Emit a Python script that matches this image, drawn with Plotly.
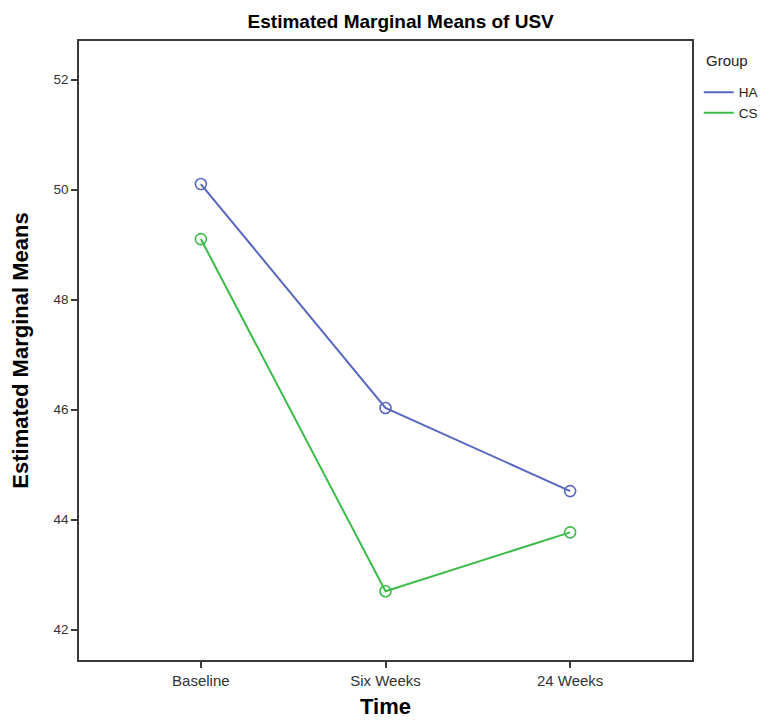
import plotly.graph_objects as go

categories = ["Baseline", "Six Weeks", "24 Weeks"]
ha_values = [50.1, 46.03, 44.52]
cs_values = [49.1, 42.7, 43.77]
y_ticks = [42, 44, 46, 48, 50, 52]
group_names = ["HA", "CS"]

HA_COLOR = "#5867c0"
CS_COLOR = "#3dbb4a"
FONT = "Liberation Sans, Arial, sans-serif"

x_pos = list(range(len(categories)))

fig = go.Figure()
for name, vals, col in [(group_names[0], ha_values, HA_COLOR), (group_names[1], cs_values, CS_COLOR)]:
    fig.add_trace(go.Scatter(x=x_pos, y=vals, mode="lines", name=name,
                             line=dict(color=col, width=2), showlegend=True))
    fig.add_trace(go.Scatter(x=x_pos, y=vals, mode="markers", name=name,
                             marker=dict(symbol="circle-open", size=11, color=col,
                                         line=dict(width=1.6, color=col)),
                             showlegend=False))

axis_common = dict(showline=True, linecolor="#3a3a3a", linewidth=1.6, mirror=True,
                   ticks="outside", ticklen=6, tickcolor="#3a3a3a", tickwidth=1.5,
                   showgrid=False, zeroline=False)

fig.update_layout(
    width=767, height=726,
    paper_bgcolor="white", plot_bgcolor="white",
    margin=dict(l=71, r=76, t=33, b=74),
    title=dict(text="<b>Estimated Marginal Means of USV</b>", x=0.512, xanchor="center",
               y=0.981, yanchor="middle",
               font=dict(family=FONT, size=19, color="black")),
    xaxis=dict(range=[-0.66, 2.66], tickvals=x_pos, ticktext=categories,
               tickfont=dict(family=FONT, size=15, color="#333333"),
               title=dict(text="<b>Time</b>", font=dict(family=FONT, size=22, color="black"), standoff=11),
               **axis_common),
    yaxis=dict(range=[41.45, 52.7], tickvals=y_ticks, ticktext=[str(v) for v in y_ticks],
               tickfont=dict(family=FONT, size=13.5, color="#333333"),
               title=dict(text="<b>Estimated Marginal Means</b>", font=dict(family=FONT, size=22, color="black"), standoff=19),
               **axis_common),
    legend=dict(x=1.011, xanchor="left", y=0.942, yanchor="top",
                font=dict(family=FONT, size=13.5, color="#222222"),
                bgcolor="rgba(0,0,0,0)", itemwidth=30, tracegroupgap=0),
    annotations=[dict(text="Group", xref="paper", yref="paper", x=1.019, y=0.968,
                      xanchor="left", yanchor="middle", showarrow=False,
                      font=dict(family=FONT, size=15, color="#222222"))],
)

fig.write_html("out.html")
